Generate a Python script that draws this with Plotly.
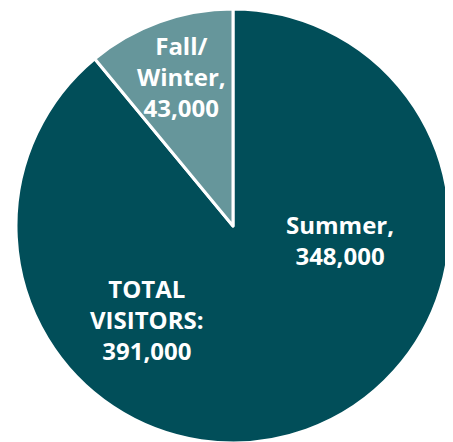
import plotly.graph_objects as go

labels = ["Summer", "Fall/Winter"]
values = [348000, 43000]
colors = ["#014E59", "#66969B"]
total_label = "TOTAL<br>VISITORS:"

W, H = 453, 442
BODY = 8  # default page margin offset
ML, MR, MT, MB = 7, 10, 1, 7

fig = go.Figure(go.Pie(
    labels=labels,
    values=values,
    sort=False,
    direction="clockwise",
    rotation=0,
    marker=dict(colors=colors, line=dict(color="white", width=3)),
    textinfo="none",
    hoverinfo="label+value",
    showlegend=False,
))

def px_to_paper(x, y):
    return ((x - BODY - ML) / (W - ML - MR),
            1 - (y - BODY - MT) / (H - MT - MB))

font = dict(family="Open Sans", size=24, color="white", weight=700)
label_pos = [(340, 240), (181, 76)]
annotations = []
for lab, val, (px, py) in zip(labels, values, label_pos):
    ax, ay = px_to_paper(px, py)
    annotations.append(dict(
        x=ax, y=ay, xref="paper", yref="paper", showarrow=False,
        text=lab.replace("/", "/<br>") + ",<br>" + f"{val:,}",
        font=font, align="center", xanchor="center", yanchor="middle",
    ))
tx, ty = px_to_paper(147, 319)
annotations.append(dict(
    x=tx, y=ty, xref="paper", yref="paper", showarrow=False,
    text=total_label + "<br>" + f"{sum(values):,}",
    font=font, align="center", xanchor="center", yanchor="middle",
))

fig.update_layout(
    width=W, height=H,
    margin=dict(l=ML, r=MR, t=MT, b=MB),
    paper_bgcolor="white",
    annotations=annotations,
)
fig.write_html("out.html")
